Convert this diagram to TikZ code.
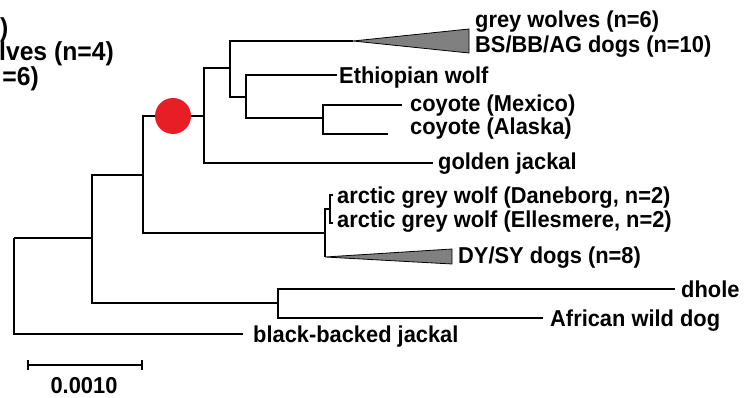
\documentclass[tikz,border=0pt]{standalone}
\usepackage{fontspec}
\setmainfont[FakeStretch=0.95]{Liberation Sans}
\usetikzlibrary{arrows.meta}
\definecolor{nodeRed}{RGB}{232,30,38}
\tikzset{
  branch/.style={line width=2pt},
  leaf/.style={anchor=west, inner sep=0pt, text height=16.5pt, text depth=0pt,
    font=\bfseries\fontsize{23}{27}\selectfont},
  cutoff/.style={leaf, anchor=east, font=\bfseries\fontsize{26}{30}\selectfont},
  clade/.style={draw, line width=0.8pt, fill=gray}
}
\begin{document}
\begin{tikzpicture}[x=1pt,y=-1pt]
\useasboundingbox (0,0) rectangle (755,398);
\clip (0,0) rectangle (755,398);

% internal nodes
\coordinate (root) at (14,238);
\coordinate (n92) at (92,238);
\coordinate (n143) at (143,175);
\coordinate (n204) at (204,116);
\coordinate (n230) at (230,68);
\coordinate (n246) at (246,97);
\coordinate (n323) at (323,118);
\coordinate (n325) at (325,233);
\coordinate (n330) at (330,209);
\coordinate (n278) at (278,303);

% tips
\coordinate (wolfTip) at (353,41);
\coordinate (ethTip) at (337,75);
\coordinate (mexTip) at (402,105);
\coordinate (alaTip) at (388,134);
\coordinate (jackTip) at (433,163);
\coordinate (danTip) at (333,195);
\coordinate (ellTip) at (333,223);
\coordinate (dySyTip) at (325,257);
\coordinate (dholeTip) at (675,289);
\coordinate (wildTip) at (543,318);
\coordinate (bbjTip) at (243,334);

\draw[branch] (root) |- (n92);
\draw[branch] (root) |- (bbjTip);
\draw[branch] (n92) |- (n143);
\draw[branch] (n92) |- (n278);
\draw[branch] (n143) |- (n204);
\draw[branch] (n143) |- (n325);
\draw[branch] (n204) |- (n230);
\draw[branch] (n204) |- (jackTip);
\draw[branch] (n230) |- (wolfTip);
\draw[branch] (n230) |- (n246);
\draw[branch] (n246) |- (ethTip);
\draw[branch] (n246) |- (n323);
\draw[branch] (n323) |- (mexTip);
\draw[branch] (n323) |- (alaTip);
\draw[branch] (n325) |- (n330);
\draw[branch] (n325) |- (dySyTip);
\draw[branch] (n330) |- (danTip);
\draw[branch] (n330) |- (ellTip);
\draw[branch] (n278) |- (dholeTip);
\draw[branch] (n278) |- (wildTip);

\draw[clade] (wolfTip) -- (469,29) -- (469,53) -- cycle;
\draw[clade] (dySyTip) -- (452,249) -- (452,264) -- cycle;

\node[circle, fill=nodeRed, minimum size=36pt, inner sep=0pt] (redDot) at (173,116) {};

\node[leaf] (wolves) at (475,19) {grey wolves (n=6)};
\node[leaf] (bsDogs) at (475,44) {BS/BB/AG dogs (n=10)};
\node[leaf] (eth) at (339,75) {Ethiopian wolf};
\node[leaf] (mex) at (410,103) {coyote (Mexico)};
\node[leaf] (ala) at (410,126) {coyote (Alaska)};
\node[leaf] (jack) at (438,161) {golden jackal};
\node[leaf] (dan) at (337,195) {arctic grey wolf (Daneborg, n=2)};
\node[leaf] (ell) at (337,219) {arctic grey wolf (Ellesmere, n=2)};
\node[leaf] (dySy) at (458,255) {DY/SY dogs (n=8)};
\node[leaf] (dhole) at (681,289) {dhole};
\node[leaf] (wild) at (550,318) {African wild dog};
\node[leaf] (bbj) at (253,334) {black-backed jackal};

\node[cutoff, anchor=west] (cutA) at (0,28) {)};
\node[cutoff] (cutB) at (114,52) {lves (n=4)};
\node[cutoff] (cutC) at (39,77) {=6)};

\coordinate (barL) at (27,365);
\coordinate (barR) at (143,365);
\draw[branch, {Bar[width=10pt]}-{Bar[width=10pt]}] (barL) -- (barR);
\node[leaf, anchor=center] (barLab) at (84,385) {0.0010};
\end{tikzpicture}
\end{document}
